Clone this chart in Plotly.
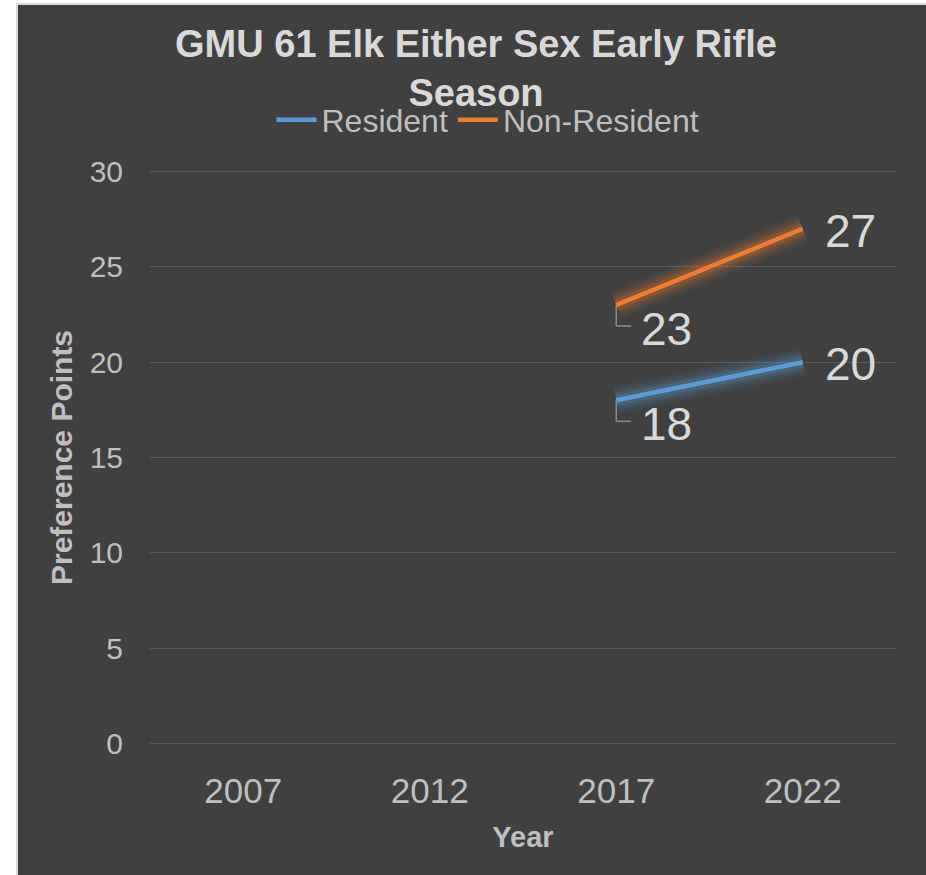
import plotly.graph_objects as go

years = ["2007", "2012", "2017", "2022"]
resident = [None, None, 18, 20]
non_resident = [None, None, 23, 27]
y_ticks = [0, 5, 10, 15, 20, 25, 30]

FONT = "Liberation Sans, Arial, sans-serif"
BG = "#404040"
BLUE = "#5b9bd5"
ORANGE = "#ed7d31"

W, H = 926, 875
ML, MR, MT, MB = 150, 30, 170, 130
PW = W - ML - MR
PH = H - MT - MB

def px_x(px):
    return (px - ML) / PW

def px_y(py):
    return (H - MB - py) / PH

fig = go.Figure()

series = [("Resident", resident, BLUE, (91, 155, 213)),
          ("Non-Resident", non_resident, ORANGE, (237, 125, 49))]

# soft glow traces
for name, vals, col, rgb in series:
    for w, a in [(28, 0.07), (22, 0.09), (16, 0.13), (11, 0.18)]:
        fig.add_trace(go.Scatter(x=years, y=vals, mode="lines",
                                 line=dict(color="rgba(%d,%d,%d,%.2f)" % (rgb + (a,)), width=w),
                                 showlegend=False, hoverinfo="skip"))
for name, vals, col, rgb in series:
    fig.add_trace(go.Scatter(x=years, y=vals, mode="lines", name=name,
                             line=dict(color=col, width=4.5)))

# data labels
annotations = []
shapes = []
for name, vals, col, rgb in series:
    present = [i for i, v in enumerate(vals) if v is not None]
    for k, i in enumerate(present):
        v = vals[i]
        last = (k == len(present) - 1)
        if last:
            annotations.append(dict(x=i, y=v, xref="x", yref="y", text=str(v),
                                    showarrow=False, xshift=48, yshift=-2,
                                    font=dict(size=46, color="#d9d9d9", family=FONT)))
        else:
            annotations.append(dict(x=i, y=v, xref="x", yref="y", text=str(v),
                                    showarrow=False, xshift=50, yshift=-24,
                                    font=dict(size=46, color="#d9d9d9", family=FONT)))
            shapes.append(dict(type="line", xref="x", yref="y", xsizemode="pixel", ysizemode="pixel",
                               xanchor=i, yanchor=v, x0=0, x1=0, y0=0, y1=-21,
                               line=dict(color="#8c8c8c", width=1.5)))
            shapes.append(dict(type="line", xref="x", yref="y", xsizemode="pixel", ysizemode="pixel",
                               xanchor=i, yanchor=v, x0=0, x1=15, y0=-21, y1=-21,
                               line=dict(color="#8c8c8c", width=1.5)))

# outer frame: white strip on left/top with light border
shapes.append(dict(type="rect", xref="paper", yref="paper", layer="below",
                   x0=px_x(17), x1=px_x(W + 10), y0=px_y(H + 10), y1=px_y(4),
                   fillcolor=BG, line=dict(color="#d9d9d9", width=2)))

fig.update_layout(
    width=W, height=H,
    margin=dict(l=ML, r=MR, t=MT, b=MB, pad=0),
    paper_bgcolor="white",
    plot_bgcolor="rgba(0,0,0,0)",
    font=dict(family=FONT, color="#bfbfbf"),
    title=dict(text="<b>GMU 61 Elk Either Sex Early Rifle<br>Season</b>",
               x=476 / W, xref="container", xanchor="center",
               y=1 - 57 / H, yref="container", yanchor="middle",
               font=dict(size=38, color="#d9d9d9", family=FONT)),
    legend=dict(orientation="h", x=px_x(488), xanchor="center", y=px_y(120), yanchor="middle",
                bgcolor="rgba(0,0,0,0)", font=dict(size=32, color="#bfbfbf", family=FONT),
                itemwidth=40, tracegroupgap=0),
    xaxis=dict(type="category", categoryorder="array", categoryarray=years,
               range=[-0.5, 3.5], showgrid=False, zeroline=False, showline=False,
               ticks="", ticklabelstandoff=22,
               tickfont=dict(size=35, color="#bfbfbf", family=FONT),
               title=dict(text="<b>Year</b>", standoff=17,
                          font=dict(size=29, color="#bfbfbf", family=FONT))),
    yaxis=dict(range=[-0.08, 30.08], tickvals=y_ticks, showgrid=True, gridcolor="#5a5a5a", gridwidth=1,
               zeroline=False, showline=False, ticks="", ticklabelstandoff=26,
               tickfont=dict(size=30, color="#bfbfbf", family=FONT),
               title=dict(text="<b>Preference Points</b>", standoff=8,
                          font=dict(size=30, color="#bfbfbf", family=FONT))),
    annotations=annotations,
    shapes=shapes,
)

fig.write_html("out.html", config={"displayModeBar": False},
               post_script="document.body.style.margin='0';document.body.style.overflow='hidden';")
